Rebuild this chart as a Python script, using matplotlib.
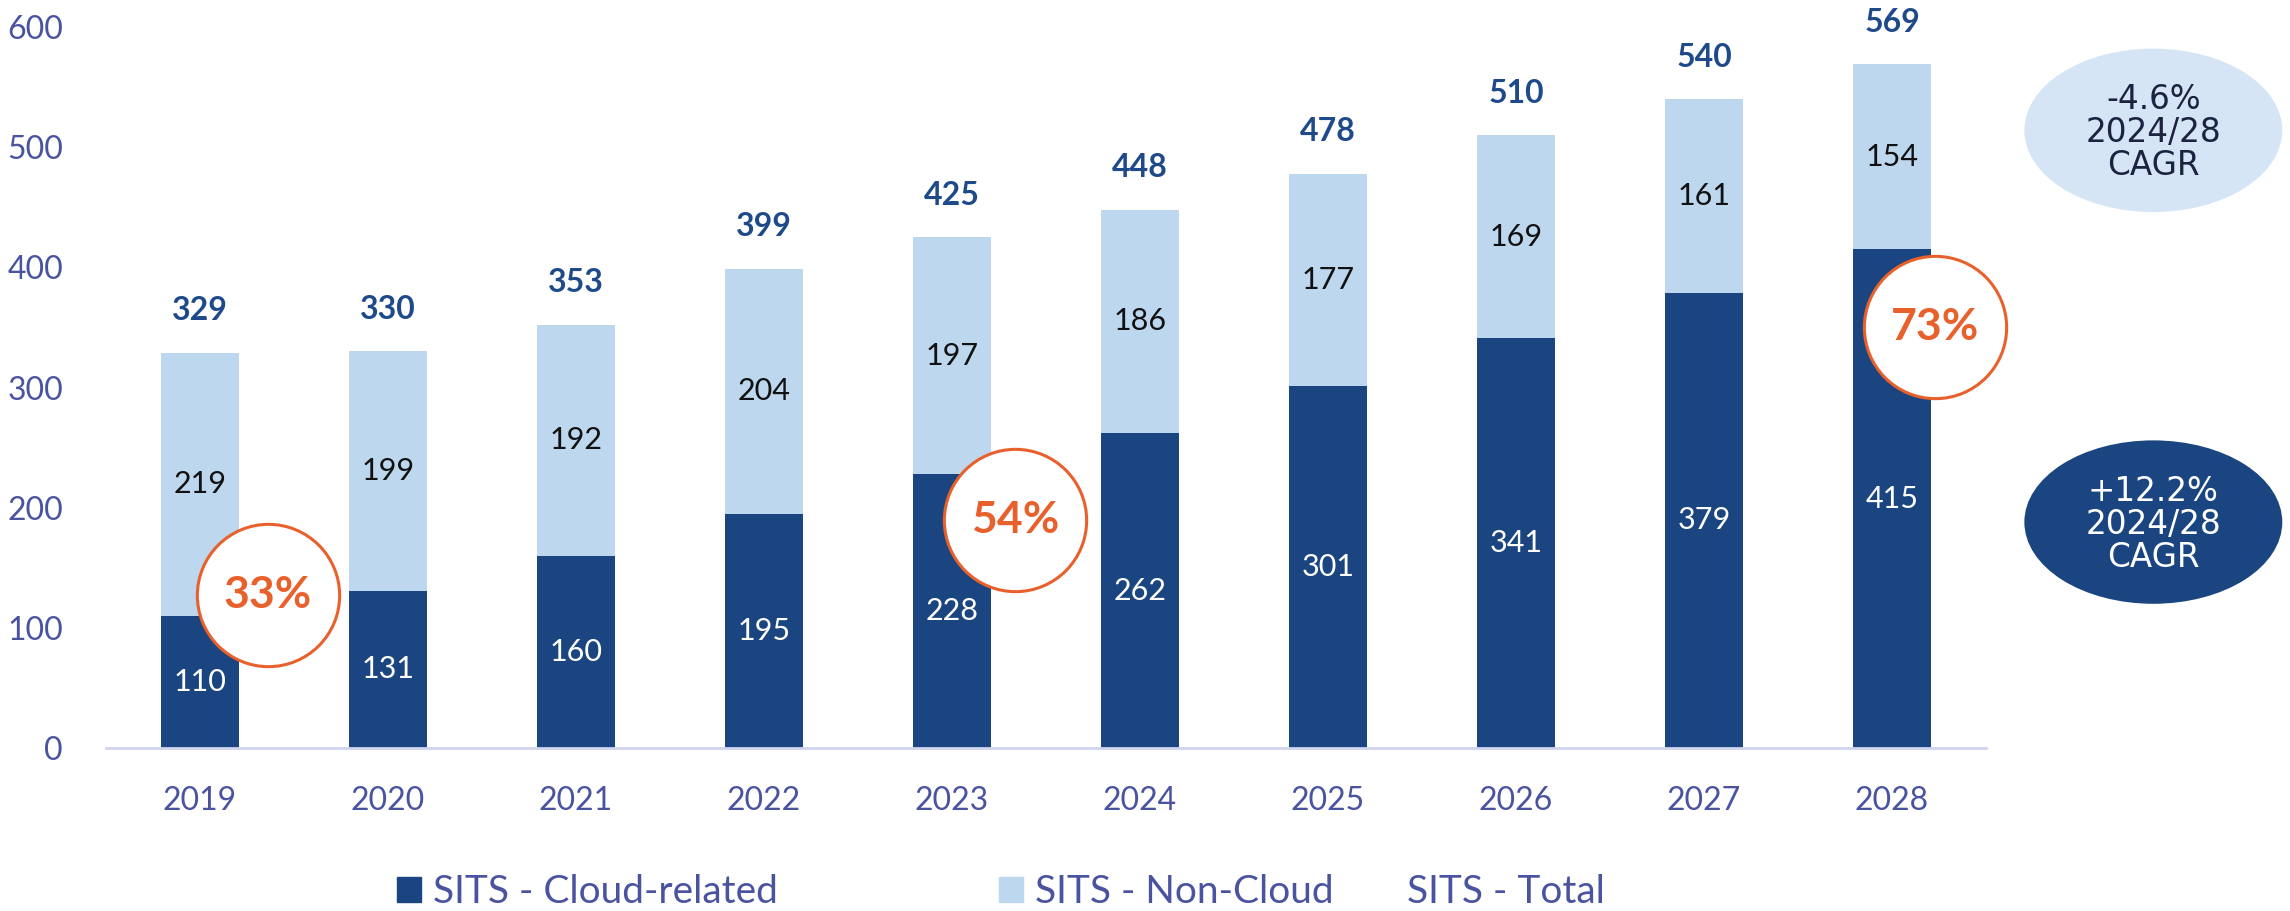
import numpy as np
import matplotlib.pyplot as plt
from matplotlib.patches import Ellipse, Patch

plt.rcParams['font.family'] = ['Lato', 'DejaVu Sans']

years = ['2019', '2020', '2021', '2022', '2023', '2024', '2025', '2026', '2027', '2028']
cloud = [110, 131, 160, 195, 228, 262, 301, 341, 379, 415]
non_cloud = [219, 199, 192, 204, 197, 186, 177, 169, 161, 154]
totals = [329, 330, 353, 399, 425, 448, 478, 510, 540, 569]

# cloud share callouts: x position, y position, text
shares = [(0.36, 127, '33%'), (4.335, 190, '54%'), (9.23, 350, '73%')]

dark = '#1a4580'
light = '#bdd7ee'
tick_col = '#4a53a0'
orange = '#e8602c'

fig = plt.figure(figsize=(22.9, 9.11), dpi=100)
ax = fig.add_axes([106 / 2290, 1 - 748 / 911, 1880 / 2290, 721 / 911])

x = np.arange(len(years))
w = 0.41
ax.bar(x, cloud, w, color=dark, zorder=2)
ax.bar(x, non_cloud, w, bottom=cloud, color=light, zorder=2)

for i in range(len(years)):
    ax.text(x[i], cloud[i] / 2, str(cloud[i]), ha='center', va='center',
            color='white', fontsize=22, zorder=3)
    ax.text(x[i], cloud[i] + non_cloud[i] / 2, str(non_cloud[i]), ha='center',
            va='center', color='#111111', fontsize=22, zorder=3)
    ax.annotate(str(totals[i]), (x[i], totals[i]), xytext=(0, 30),
                textcoords='offset points', ha='center', va='center',
                color='#1f4a8a', fontsize=23, fontweight='bold')

for cx, cy, t in shares:
    ax.scatter([cx], [cy], s=10500, facecolor='white', edgecolor=orange,
               linewidth=2.2, zorder=4, clip_on=False)
    ax.text(cx, cy, t, ha='center', va='center', color=orange, fontsize=32,
            fontweight='bold', zorder=5)

# CAGR bubbles on the right
e1 = Ellipse((10.39, 514), 1.372, 136, facecolor='#d5e5f5', edgecolor='none', clip_on=False)
e2 = Ellipse((10.39, 188), 1.372, 136, facecolor=dark, edgecolor='none', clip_on=False)
ax.add_patch(e1)
ax.add_patch(e2)
ax.text(10.39, 512, '-4.6%\n2024/28\nCAGR', ha='center', va='center',
        color='#1c2340', fontsize=23.5, linespacing=1.0, fontfamily=['DejaVu Sans'])
ax.text(10.39, 186, '+12.2%\n2024/28\nCAGR', ha='center', va='center',
        color='white', fontsize=23.5, linespacing=1.0, fontfamily=['DejaVu Sans'])

ax.set_xlim(-0.5, 9.5)
ax.set_ylim(0, 600)
ax.set_yticks(range(0, 601, 100))
ax.set_xticks(x)
ax.set_xticklabels(years)
ax.tick_params(axis='both', length=0, labelsize=23, labelcolor=tick_col)
ax.tick_params(axis='x', pad=27)
ax.tick_params(axis='y', pad=31)
for s in ['top', 'right', 'left']:
    ax.spines[s].set_visible(False)
ax.spines['bottom'].set_color('#d0d4ec')
ax.spines['bottom'].set_linewidth(2)

leg_y = 1 - 892 / 911
leg1 = fig.legend([Patch(color=dark), Patch(color=light)],
                  ['SITS - Cloud-related', 'SITS - Non-Cloud'],
                  ncol=2, loc='center left', bbox_to_anchor=(397 / 2290, leg_y),
                  frameon=False, fontsize=28, handlelength=0.62, handleheight=0.62,
                  handletextpad=0.3, columnspacing=5.7, borderpad=0, borderaxespad=0)
leg2 = fig.legend([Patch(color='none')], ['SITS - Total'], loc='center left',
                  bbox_to_anchor=(1407 / 2290, leg_y), frameon=False, fontsize=28,
                  handlelength=0, handletextpad=0, borderpad=0, borderaxespad=0)
for lg in (leg1, leg2):
    for t in lg.get_texts():
        t.set_color(tick_col)

fig.savefig('out.png', dpi=100)
